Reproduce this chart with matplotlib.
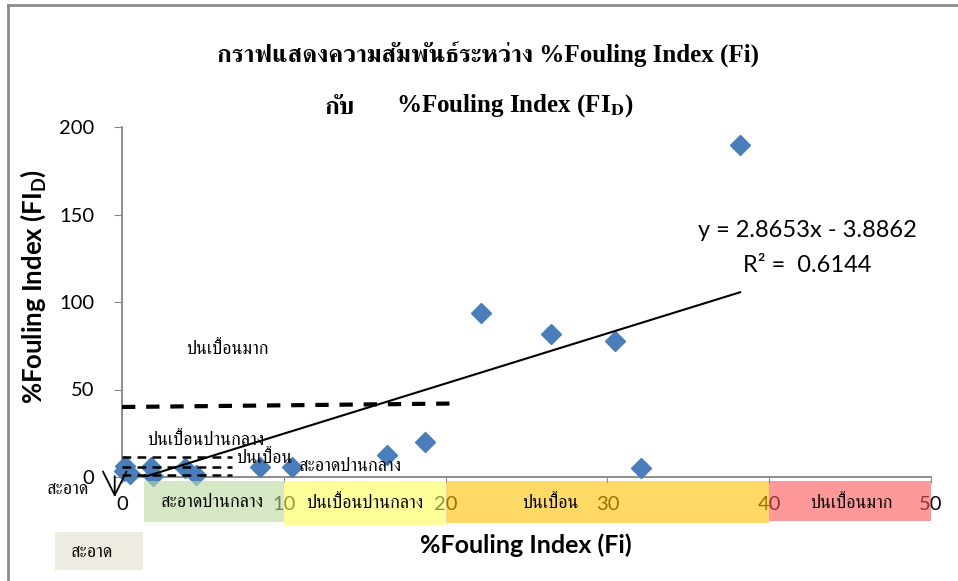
import matplotlib
matplotlib.use('Agg')
import matplotlib.pyplot as plt
from matplotlib import font_manager
from matplotlib.patches import Rectangle
from matplotlib.lines import Line2D
import matplotlib.transforms as mtrans
import numpy as np

# ---------------- data ----------------
fi_values = [38.2, 22.2, 26.5, 30.5, 32.1, 18.7, 16.4, 10.5, 8.5, 4.6, 3.9, 1.9, 1.8, 0.2, 0.5, 0.1]
fid_values = [190, 94, 82, 78, 5, 20, 12.5, 6, 5.5, 1, 5, 0.5, 6, 6.5, 1.5, 3.5]
trend_slope = 2.8653
trend_intercept = -3.8862
trend_r2 = 0.6144
x_ticks = [0, 10, 20, 30, 40, 50]
y_ticks = [0, 50, 100, 150, 200]
band_labels = ['สะอาดปานกลาง', 'ปนเปื้อนปานกลาง', 'ปนเปื้อน', 'ปนเปื้อนมาก']
band_start = [1.36, 10, 20, 40]
band_end = [10, 19.95, 40, 50]
band_label_x = [5.6, 15.0, 26.5, 45.1]
band_colors = ['#bcda9b', '#ffff55', '#ffc000', '#ff5555']
guide_thick_x = [0, 20.6]
guide_thick_y = [40, 42]
guide_thin_levels = [11.4, 5.7, 1.1]
guide_thin_x = [0, 6.8]

# ---------------- fonts ----------------
def find_thai_fonts():
    from fontTools.ttLib import TTFont
    names = []
    for f in font_manager.fontManager.ttflist:
        try:
            tt = TTFont(f.fname, fontNumber=0, lazy=True)
            cmap = tt.getBestCmap()
            if cmap and 0x0E01 in cmap and f.name not in names:
                names.append(f.name)
        except Exception:
            pass
    names.sort(key=lambda n: (0 if 'Serif' in n else 1, n))
    return names

thai = find_thai_fonts()
thai_font = thai[0] if thai else 'DejaVu Sans'
SANS = 'Lato'
plt.rcParams['mathtext.fontset'] = 'custom'
plt.rcParams['mathtext.rm'] = 'Lato'
plt.rcParams['mathtext.bf'] = 'Lato:bold'

W, H = 958, 581
fig = plt.figure(figsize=(W / 100, H / 100), dpi=100)

def fx(px):
    return px / W

def fy(py):
    return 1 - py / H

# outer frame (top and left edges visible)
fig.add_artist(Line2D([fx(8), 1.0], [fy(5), fy(5)], transform=fig.transFigure, color='#8c8c8c', lw=2))
fig.add_artist(Line2D([fx(8), fx(8)], [fy(5), 0], transform=fig.transFigure, color='#8c8c8c', lw=2))

ax = fig.add_axes([fx(122), fy(477), fx(931) - fx(122), fy(127) - fy(477)])
ax.set_xlim(0, 50)
ax.set_ylim(0, 200)
for s in ['top', 'right']:
    ax.spines[s].set_visible(False)
for s in ['left', 'bottom']:
    ax.spines[s].set_color('#868686')
    ax.spines[s].set_linewidth(1.3)
ax.set_xticks(x_ticks)
ax.set_yticks(y_ticks)
ax.tick_params(axis='y', direction='out', length=6, color='#868686', pad=14, labelsize=14.5)
ax.tick_params(axis='x', direction='out', length=4, color='#868686', pad=10, labelsize=14.5)
for lab in ax.get_xticklabels() + ax.get_yticklabels():
    lab.set_fontfamily(SANS)

# scatter
ax.plot(fi_values, fid_values, linestyle='none', marker='D', markersize=10,
        color='#4a7ebb', clip_on=False, zorder=3)

# trend line
tx = np.array([min(fi_values), max(fi_values)])
ax.plot(tx, trend_slope * tx + trend_intercept, color='black', lw=1.5, zorder=4)

# guide dashed lines
ax.plot(guide_thick_x, guide_thick_y, color='black', lw=3, dashes=(3.2, 2.6), zorder=4)
for lv in guide_thin_levels:
    ax.plot(guide_thin_x, [lv, lv], color='black', lw=1.8, dashes=(3.5, 2.5), zorder=4, clip_on=False)

# equation
ax.text(0.847, 0.703, 'y = 2.8653x - 3.8862', transform=ax.transAxes, ha='center', va='center',
        fontsize=17, family=SANS)
ax.text(0.847, 0.605, 'R² =  %.4f' % trend_r2, transform=ax.transAxes, ha='center', va='center',
        fontsize=17, family=SANS)

# Thai annotations inside plot
tfs = 13
ax.text(6.5, 73, 'ปนเปื้อนมาก', ha='center', va='center', fontsize=tfs, family=thai_font)
ax.text(5.2, 21, 'ปนเปื้อนปานกลาง', ha='center', va='center', fontsize=tfs, family=thai_font, zorder=5)
ax.text(8.8, 10.3, 'ปนเปื้อน', ha='center', va='center', fontsize=tfs, family=thai_font, zorder=5)
ax.text(14.1, 5.7, 'สะอาดปานกลาง', ha='center', va='center', fontsize=tfs, family=thai_font, zorder=5)
ax.text(-3.35, -7.5, 'สะอาด', ha='center', va='center', fontsize=tfs, family=thai_font, clip_on=False)
ax.annotate('', xy=(-0.45, -11.5), xytext=(-0.45, 0.5), annotation_clip=False,
            arrowprops=dict(arrowstyle='->, head_length=1.0, head_width=0.5', color='black',
                            lw=1.3, mutation_scale=17, shrinkA=0, shrinkB=0))

# colored bands below axis (semi-transparent, above tick labels)
btr = mtrans.blended_transform_factory(ax.transData, ax.transAxes)
band_top = -4 / 350
band_bottom = [-45 / 350, -48 / 350, -46 / 350, -44 / 350]
for s, e, c, b, lx, lab in zip(band_start, band_end, band_colors, band_bottom, band_label_x, band_labels):
    ax.add_patch(Rectangle((s, b), e - s, band_top - b, transform=btr, facecolor=c,
                           edgecolor='none', alpha=0.6, clip_on=False, zorder=10))
    ax.text(lx, -26 / 350, lab, transform=btr, ha='center', va='center',
            fontsize=tfs, family=thai_font, zorder=11, clip_on=False)

# beige box
fig.patches.append(Rectangle((fx(55), fy(570)), fx(143) - fx(55), fy(532) - fy(570),
                             transform=fig.transFigure, facecolor='#eeece1', edgecolor='none'))
fig.text(fx(92), fy(553), 'สะอาด', ha='center', va='center', fontsize=tfs, family=thai_font)

# axis labels
fig.text(fx(526), fy(545), '%Fouling Index (Fi)', ha='center', va='center', fontsize=18,
         fontweight='bold', family=SANS)
fig.text(fx(33), fy(287), r'%Fouling Index (FI$_\mathbf{D}$)', ha='center', va='center', fontsize=18.5,
         fontweight='bold', family=SANS, rotation=90)

# title
fig.text(fx(488), fy(55), 'กราฟแสดงความสัมพันธ์ระหว่าง %Fouling Index (Fi)', ha='center', va='center',
         fontsize=18, fontweight='bold', family=['Liberation Serif', thai_font])
fig.text(fx(325), fy(107), 'กับ', ha='left', va='center', fontsize=18, fontweight='bold',
         family=['Liberation Serif', thai_font])
fig.text(fx(396), fy(106), r'%Fouling Index (FI$_\mathbf{D}$)', ha='left', va='center', fontsize=18,
         fontweight='bold', family='Liberation Serif', math_fontfamily='stix')

fig.savefig('out.png', dpi=100)
